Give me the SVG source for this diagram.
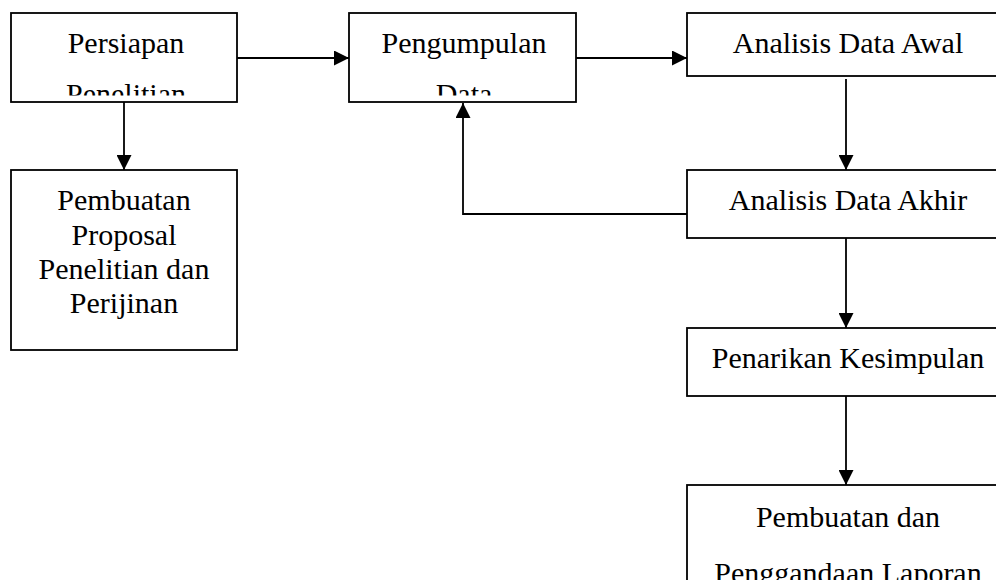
<svg xmlns="http://www.w3.org/2000/svg" width="996" height="580" viewBox="0 0 996 580">
<style>
.box{fill:#fff;stroke:#000;stroke-width:1.8}
.t{font-family:"Liberation Serif","Times New Roman",serif;font-size:30px;fill:#000;text-anchor:middle}
.c{fill:none;stroke:#000;stroke-width:1.8}
</style>
<defs>
<marker id="ah" markerWidth="15" markerHeight="15" refX="15" refY="7.5" orient="auto" markerUnits="userSpaceOnUse">
<path d="M0,0 L15,7.5 L0,15 Z" fill="#000"/>
</marker>
<clipPath id="c1"><rect x="11" y="12" width="226" height="83.5"/></clipPath>
<clipPath id="c2"><rect x="349" y="12" width="227" height="83.5"/></clipPath>
</defs>
<g id="connectors">
<line class="c" x1="237" y1="58" x2="349" y2="58" marker-end="url(#ah)"/>
<line class="c" x1="576" y1="58" x2="687" y2="58" marker-end="url(#ah)"/>
<line class="c" x1="124" y1="102" x2="124" y2="170" marker-end="url(#ah)"/>
<line class="c" x1="846" y1="79" x2="846" y2="170" marker-end="url(#ah)"/>
<polyline class="c" points="687,214 463,214 463,103" marker-end="url(#ah)"/>
<line class="c" x1="846" y1="238" x2="846" y2="328" marker-end="url(#ah)"/>
<line class="c" x1="846" y1="396" x2="846" y2="485" marker-end="url(#ah)"/>
</g>
<g id="persiapan">
<rect class="box" x="11" y="13" width="226" height="89"/>
<g clip-path="url(#c1)">
<text class="t" x="126" y="53">Persiapan</text>
<text class="t" x="126" y="104">Penelitian</text>
</g>
</g>
<g id="pengumpulan">
<rect class="box" x="349" y="13" width="227" height="89"/>
<g clip-path="url(#c2)">
<text class="t" x="464" y="53">Pengumpulan</text>
<text class="t" x="464" y="104">Data</text>
</g>
</g>
<g id="awal">
<rect class="box" x="687" y="13" width="322" height="63"/>
<text class="t" x="848" y="53">Analisis Data Awal</text>
</g>
<g id="proposal">
<rect class="box" x="11" y="170" width="226" height="180"/>
<text class="t" x="124" y="210">Pembuatan</text>
<text class="t" x="124" y="245">Proposal</text>
<text class="t" x="124" y="279">Penelitian dan</text>
<text class="t" x="124" y="313">Perijinan</text>
</g>
<g id="akhir">
<rect class="box" x="687" y="170" width="322" height="68"/>
<text class="t" x="848" y="210">Analisis Data Akhir</text>
</g>
<g id="kesimpulan">
<rect class="box" x="687" y="328" width="322" height="68"/>
<text class="t" x="848" y="368">Penarikan Kesimpulan</text>
</g>
<g id="laporan">
<rect class="box" x="687" y="485" width="322" height="120"/>
<text class="t" x="848" y="527">Pembuatan dan</text>
<text class="t" x="848" y="583">Penggandaan Laporan</text>
</g>
</svg>
